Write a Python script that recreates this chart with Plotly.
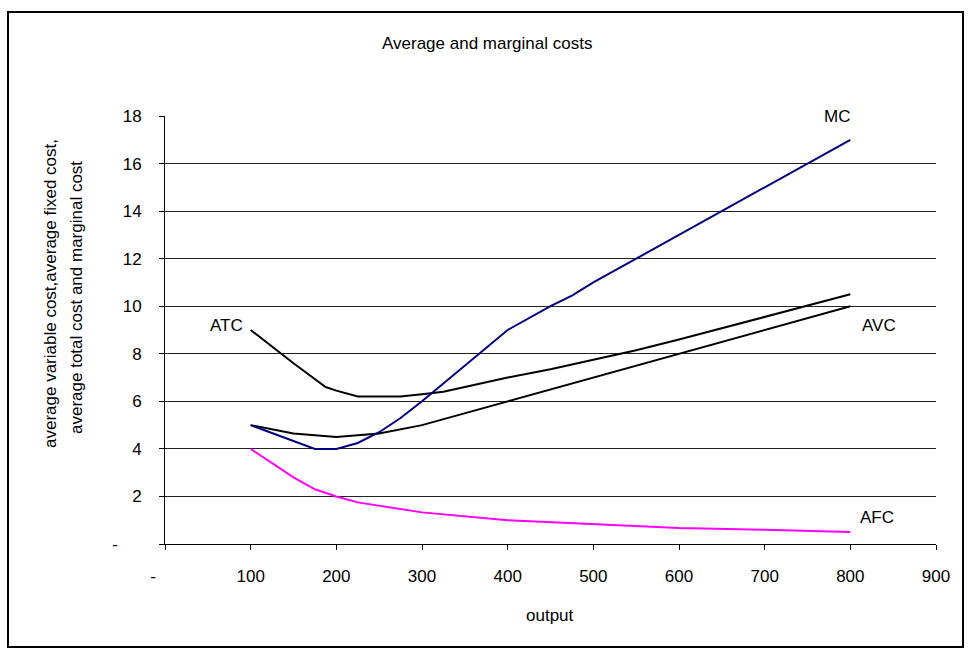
import plotly.graph_objects as go

# ---- data ----
atc_x = [100, 125, 150, 187.5, 200, 225, 250, 275, 300, 325, 350, 400, 450, 500, 550, 600, 700, 800]
atc_y = [9.0, 8.3, 7.6, 6.6, 6.45, 6.2, 6.2, 6.2, 6.3, 6.4, 6.6, 7.0, 7.35, 7.75, 8.15, 8.6, 9.55, 10.5]

avc_x = [100, 150, 200, 250, 300, 350, 400, 450, 500, 550, 600, 700, 800]
avc_y = [5.0, 4.65, 4.5, 4.65, 5.0, 5.5, 6.0, 6.5, 7.0, 7.5, 8.0, 9.0, 10.0]

mc_x = [100, 175, 200, 225, 250, 275, 300, 325, 350, 400, 450, 475, 500, 550, 600, 700, 800]
mc_y = [5.0, 4.0, 4.0, 4.25, 4.7, 5.3, 6.0, 6.75, 7.5, 9.0, 10.0, 10.45, 11.0, 12.0, 13.0, 15.0, 17.0]

afc_x = [100, 150, 175, 200, 225, 300, 400, 500, 600, 700, 800]
afc_y = [4.0, 2.8, 2.3, 2.0, 1.75, 1.33, 1.0, 0.85, 0.67, 0.6, 0.5]

x_ticks = [0, 100, 200, 300, 400, 500, 600, 700, 800, 900]
x_ticktext = ["-" + "\u00a0" * 5, "100", "200", "300", "400", "500", "600", "700", "800", "900"]
y_ticks = [0, 2, 4, 6, 8, 10, 12, 14, 16, 18]
y_ticktext = ["-" + "\u00a0" * 5, "2", "4", "6", "8", "10", "12", "14", "16", "18"]

title = "Average and marginal costs"
x_title = "output"
y_title_1 = "average variable cost,average fixed cost,"
y_title_2 = "average total cost and marginal cost"

FONT = "Liberation Sans, Arial, sans-serif"
FS = 17

W, H = 971, 653
L, R, T, B = 165, 35, 116, 109
pw, ph = W - L - R, H - T - B


def px_to_paper_x(px):
    return (px - L) / pw


def px_to_paper_y(py):
    return (H - B - py) / ph


fig = go.Figure()
fig.add_trace(go.Scatter(x=atc_x, y=atc_y, mode="lines", line=dict(color="black", width=2), name="ATC"))
fig.add_trace(go.Scatter(x=avc_x, y=avc_y, mode="lines", line=dict(color="black", width=2), name="AVC"))
fig.add_trace(go.Scatter(x=mc_x, y=mc_y, mode="lines", line=dict(color="#000080", width=2), name="MC"))
fig.add_trace(go.Scatter(x=afc_x, y=afc_y, mode="lines", line=dict(color="#FF00FF", width=2), name="AFC"))

labels = [("MC", 784, 18.0), ("AVC", 834, 9.2), ("AFC", 831, 1.1), ("ATC", 72, 9.2)]
for txt, lx, ly in labels:
    fig.add_annotation(x=lx, y=ly, text=txt, showarrow=False, xref="x", yref="y",
                       xanchor="center", yanchor="middle",
                       font=dict(family=FONT, size=FS, color="black"))

fig.add_annotation(x=px_to_paper_x(550), y=px_to_paper_y(615), xref="paper", yref="paper",
                   text=x_title, showarrow=False, xanchor="center", yanchor="middle",
                   font=dict(family=FONT, size=FS, color="black"))
fig.add_annotation(x=px_to_paper_x(50), y=px_to_paper_y(294), xref="paper", yref="paper",
                   text=y_title_1, textangle=-90, showarrow=False, xanchor="center", yanchor="middle",
                   font=dict(family=FONT, size=FS, color="black"))
fig.add_annotation(x=px_to_paper_x(76), y=px_to_paper_y(298), xref="paper", yref="paper",
                   text=y_title_2, textangle=-90, showarrow=False, xanchor="center", yanchor="middle",
                   font=dict(family=FONT, size=FS, color="black"))
fig.add_annotation(x=px_to_paper_x(487), y=px_to_paper_y(44), xref="paper", yref="paper",
                   text=title, showarrow=False, xanchor="center", yanchor="middle",
                   font=dict(family=FONT, size=FS, color="black"))

# outer frame
fig.add_shape(type="rect", xref="paper", yref="paper",
              x0=px_to_paper_x(8), x1=px_to_paper_x(963),
              y0=px_to_paper_y(647), y1=px_to_paper_y(12),
              line=dict(color="black", width=2), fillcolor="rgba(0,0,0,0)", layer="below")

fig.update_layout(
    width=W, height=H,
    margin=dict(l=L, r=R, t=T, b=B),
    paper_bgcolor="white", plot_bgcolor="white",
    showlegend=False,
    font=dict(family=FONT, size=FS, color="black"),
)
fig.update_xaxes(range=[0, 900], tickvals=x_ticks, ticktext=x_ticktext,
                 showgrid=False, zeroline=False, showline=True, linecolor="black", linewidth=1,
                 ticks="outside", ticklen=5, tickcolor="black", ticklabelstandoff=12,
                 tickfont=dict(family=FONT, size=FS, color="black"))
fig.update_yaxes(range=[0, 18], tickvals=y_ticks, ticktext=y_ticktext,
                 showgrid=True, gridcolor="#222222", gridwidth=1, zeroline=False,
                 showline=True, linecolor="black", linewidth=1,
                 ticks="outside", ticklen=5, tickcolor="black", ticklabelstandoff=14,
                 tickfont=dict(family=FONT, size=FS, color="black"))

fig.write_html("out.html")
